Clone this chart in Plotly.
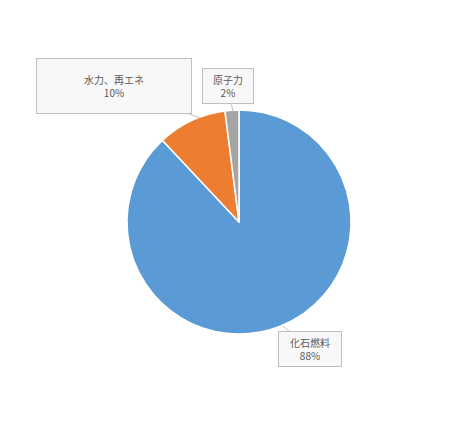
import plotly.graph_objects as go

labels = ["化石燃料", "水力、再エネ", "原子力"]
values = [88, 10, 2]
colors = ["#5B9BD5", "#ED7D31", "#A5A5A5"]

W, H = 472, 443
OFF = 8  # page offset of the plot in the browser

fig = go.Figure(go.Pie(
    labels=labels, values=values, sort=False, direction="clockwise", rotation=0,
    marker=dict(colors=colors, line=dict(color="white", width=1.5)),
    textinfo="none", hoverinfo="label+percent", showlegend=False,
    domain=dict(x=[(127 - OFF) / W, (351 - OFF) / W],
                y=[1 - (334 - OFF) / H, 1 - (110 - OFF) / H]),
))

def px(x, y):
    return (x - OFF) / W, 1 - (y - OFF) / H

# callout boxes: (label, value, anchor point on slice, box centre, size)
callouts = [
    (labels[1], values[1], (200, 118), (114, 86), 148, 56),
    (labels[2], values[2], (233, 112), (228, 86), 44, 36),
    (labels[0], values[0], (283, 326), (310, 349), 56, 36),
]
for lab, val, (tx, ty), (cx, cy), bw, bh in callouts:
    x, y = px(tx, ty)
    fig.add_annotation(
        x=x, y=y, xref="paper", yref="paper",
        ax=cx - tx, ay=cy - ty, axref="pixel", ayref="pixel",
        text=f"{lab}<br>{val}%", showarrow=True, arrowhead=0, arrowwidth=1,
        arrowcolor="#bfbfbf", standoff=0, startstandoff=0,
        bgcolor="#f8f8f8", bordercolor="#bfbfbf", borderwidth=1,
        width=bw, height=bh - 8, borderpad=3,
        font=dict(family="Noto Sans CJK JP", size=10, color="#595959"),
    )

fig.update_layout(
    width=W, height=H, margin=dict(l=0, r=0, t=0, b=0),
    paper_bgcolor="white", plot_bgcolor="white",
)
fig.write_html("out.html")
